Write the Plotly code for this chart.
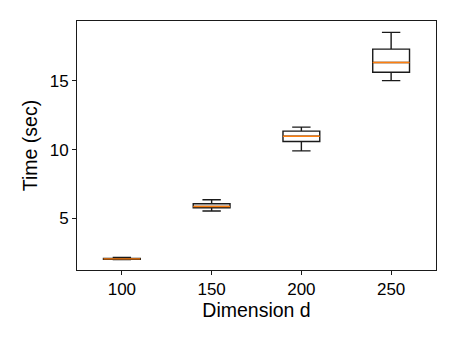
import plotly.graph_objects as go

dims = [100, 150, 200, 250]
lower = [1.99, 5.53, 9.90, 15.02]
q1 = [2.01, 5.75, 10.59, 15.63]
median = [2.04, 5.85, 10.97, 16.34]
q3 = [2.08, 6.05, 11.34, 17.31]
upper = [2.14, 6.34, 11.63, 18.53]

box_w = 20.5

fig = go.Figure()
fig.add_trace(go.Box(
    x=dims, q1=q1, median=median, q3=q3,
    lowerfence=lower, upperfence=upper,
    width=box_w, whiskerwidth=0.5,
    line=dict(color="#1a1a1a", width=1.4),
    fillcolor="rgba(0,0,0,0)",
    boxpoints=False, hoverinfo="skip", showlegend=False,
))
for d, m in zip(dims, median):
    fig.add_trace(go.Scatter(
        x=[d - box_w / 2, d + box_w / 2], y=[m, m], mode="lines",
        line=dict(color="#ff7f0e", width=1.4), showlegend=False, hoverinfo="skip",
    ))

font = dict(family="Liberation Sans, Arial, sans-serif", size=17, color="black")
fig.update_layout(
    width=449, height=335,
    margin=dict(l=69, r=21, t=13, b=73),
    paper_bgcolor="white", plot_bgcolor="white",
    font=font,
    xaxis=dict(
        range=[75, 275], tickvals=dims, ticktext=[str(d) for d in dims],
        ticks="outside", ticklen=4, tickcolor="#1a1a1a", showgrid=False, zeroline=False,
        showline=True, linecolor="#1a1a1a", linewidth=1, mirror=True,
        title=dict(text="Dimension d", font=dict(size=19.5), standoff=0),
    ),
    yaxis=dict(
        range=[1.23, 19.36], tickvals=[5, 10, 15],
        ticks="outside", ticklen=4, tickcolor="#1a1a1a", showgrid=False, zeroline=False,
        showline=True, linecolor="#1a1a1a", linewidth=1, mirror=True,
        title=dict(text="Time (sec)", font=dict(size=19.5), standoff=6),
    ),
)
fig.write_html("out.html")
